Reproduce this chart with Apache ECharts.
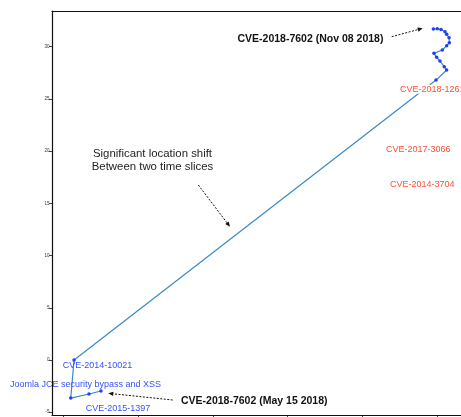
<!DOCTYPE html>
<html>
<head>
<meta charset="utf-8">
<script src="https://cdn.jsdelivr.net/npm/echarts@6/dist/echarts.min.js"></script>
<style>html,body{margin:0;padding:0;background:#fff}#c{width:461px;height:417px}</style>
</head>
<body>
<div id="c"></div>
<script>
// Trajectory of CVE-2018-7602 from May 15 2018 to Nov 08 2018
var xVals = [2.50, 1.70, 0.48, 0.70, 24.93, 25.64, 25.48, 25.19, 24.97, 24.79, 25.35, 25.64, 25.82, 25.80, 25.64, 25.53, 25.26, 25.01, 24.75];
var yVals = [-2.97, -3.25, -3.64, 0.00, 26.79, 27.75, 28.07, 28.61, 28.97, 29.35, 29.67, 30.08, 30.36, 30.84, 31.17, 31.42, 31.64, 31.70, 31.67];
var yTicks = [-5, 0, 5, 10, 15, 20, 25, 30];
var xTicks = [0, 5, 10, 15, 20, 25];

var chart = echarts.init(document.getElementById('c'), null, {renderer: 'canvas'});
var pts = xVals.map(function (x, i) { return [x, yVals[i]]; });

var FONT = '"Liberation Sans", Arial, Helvetica, sans-serif';
var BLUE = '#3452ff', RED = '#ff4f33';

function txt(x, y, s, opt) {
  opt = opt || {};
  return {
    type: 'text', x: x, y: y, z: 10,
    style: {
      text: s, fill: opt.color || '#111', font: (opt.weight || 'normal') + ' ' + (opt.size || 9) + 'px ' + FONT,
      textAlign: opt.align || 'left', textVerticalAlign: 'middle',
      lineHeight: opt.lh, backgroundColor: opt.bg, padding: opt.bg ? [0, 0] : undefined
    }
  };
}
function arrow(x1, y1, x2, y2) {
  var a = Math.atan2(y2 - y1, x2 - x1), L = 5, W = 2.2;
  var bx = x2 - L * Math.cos(a), by = y2 - L * Math.sin(a);
  var px = -Math.sin(a) * W, py = Math.cos(a) * W;
  return [
    {type: 'line', z: 10, shape: {x1: x1, y1: y1, x2: bx, y2: by},
     style: {stroke: '#111', lineWidth: 1, lineDash: [2, 1.5]}},
    {type: 'polygon', z: 10, shape: {points: [[x2, y2], [bx + px, by + py], [bx - px, by - py]]},
     style: {fill: '#111'}}
  ];
}

var graphics = [].concat(
  arrow(391.7, 36.7, 422.7, 28.3),
  arrow(198.3, 185, 230, 226.7),
  arrow(172.7, 400, 108.3, 393.3),
  [
    txt(237.5, 39, 'CVE-2018-7602 (Nov 08 2018)', {weight: 'bold', size: 10.5}),
    txt(181, 400.7, 'CVE-2018-7602 (May 15 2018)', {weight: 'bold', size: 10.5}),
    txt(400, 89.3, 'CVE-2018-1261', {color: RED, bg: '#fff'}),
    txt(386, 150, 'CVE-2017-3066', {color: RED}),
    txt(390, 184.3, 'CVE-2014-3704', {color: RED}),
    txt(62.7, 365.7, 'CVE-2014-10021', {color: BLUE}),
    txt(10, 384.3, 'Joomla JCE security bypass and XSS', {color: BLUE}),
    txt(85.7, 409, 'CVE-2015-1397', {color: BLUE}),
    txt(152.5, 160.5, 'Significant location shift\nBetween two time slices', {color: '#222', size: 11.4, align: 'center', lh: 12.4})
  ]
);

var axisLineStyle = {color: '#111', width: 1.2};
chart.setOption({
  animation: false,
  grid: {left: 52, top: 11, right: 0, bottom: 2, show: false, containLabel: false},
  xAxis: [{
    type: 'value', min: -0.776, max: 26.6, position: 'bottom',
    axisLine: {show: true, onZero: false, lineStyle: axisLineStyle},
    axisTick: {show: true, length: 2, customValues: xTicks, lineStyle: {color: '#111', width: 0.8}},
    axisLabel: {show: false},
    splitLine: {show: false}
  }, {
    type: 'value', min: -0.776, max: 26.6, position: 'top',
    axisLine: {show: true, onZero: false, lineStyle: axisLineStyle},
    axisTick: {show: false}, axisLabel: {show: false}, splitLine: {show: false}
  }],
  yAxis: {
    type: 'value', min: -5.263, max: 33.40, position: 'left',
    axisLine: {show: true, onZero: false, lineStyle: axisLineStyle},
    axisTick: {show: true, length: 3, customValues: yTicks, lineStyle: {color: '#111', width: 0.8}},
    axisLabel: {show: true, customValues: yTicks, fontSize: 4.5, color: '#333', margin: 2.5, fontFamily: FONT, hideOverlap: false},
    splitLine: {show: false}
  },
  series: [{
    type: 'line', data: pts, z: 3, xAxisIndex: 0, yAxisIndex: 0,
    lineStyle: {color: '#3a8ac8', width: 1.2},
    symbol: 'circle', symbolSize: 3.5,
    itemStyle: {color: '#1f3ff2', borderWidth: 0},
    showAllSymbol: true
  }],
  graphic: graphics
});
</script>
</body>
</html>
